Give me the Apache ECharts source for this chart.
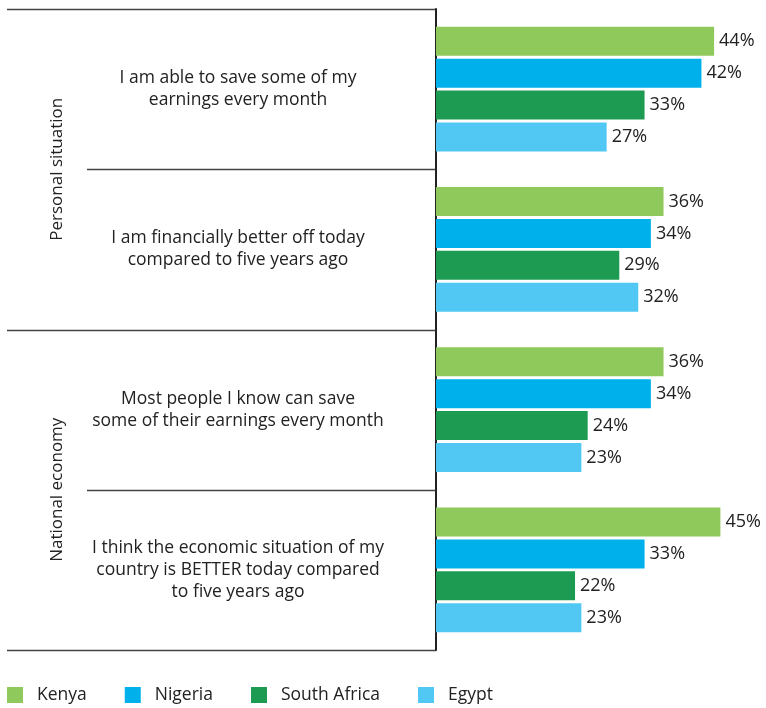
<!DOCTYPE html>
<html>
<head>
<meta charset="utf-8">
<script src="https://cdn.jsdelivr.net/npm/echarts@6/dist/echarts.min.js"></script>
<style>
  html, body { margin: 0; padding: 0; background: #fff; }
  #main { width: 766px; height: 708px; }
</style>
</head>
<body>
<div id="main"></div>
<script>
// data
var statements = [
  'I am able to save some of my\nearnings every month',
  'I am financially better off today\ncompared to five years ago',
  'Most people I know can save\nsome of their earnings every month',
  'I think the economic situation of my\ncountry is BETTER today compared\nto five years ago'
];
var groups = ['Personal situation', 'National economy'];
var countries = ['Kenya', 'Nigeria', 'South Africa', 'Egypt'];
var kenya = [44, 36, 36, 45];
var nigeria = [42, 34, 34, 33];
var southAfrica = [33, 29, 24, 22];
var egypt = [27, 32, 23, 23];
var colors = ['#8fc85b', '#00b0ea', '#1e9b53', '#50c8f3'];

var FONT = '"Open Sans", sans-serif';
var gridLeft = 436, gridTop = 9, gridBottom = 650;
var band = (gridBottom - gridTop) / statements.length;

var chartDom = document.getElementById('main');
var myChart = echarts.init(chartDom);

// table lines on the left; even rows start at the far left, odd rows indented
var graphics = [];
for (var i = 0; i <= statements.length; i++) {
  var y = Math.round(gridTop + band * i) + 0.5;
  var x0 = (i % 2 === 0) ? 7 : 87;
  graphics.push({
    type: 'line',
    shape: { x1: x0, y1: y, x2: gridLeft, y2: y },
    style: { stroke: '#444', lineWidth: 1.5 }
  });
}
for (var g = 0; g < groups.length; g++) {
  var cy = gridTop + band * (2 * g + 1);
  graphics.push({
    type: 'text',
    x: 57, y: cy,
    rotation: Math.PI / 2,
    style: {
      text: groups[g],
      font: '17px ' + FONT,
      fill: '#222',
      align: 'center',
      verticalAlign: 'middle'
    }
  });
}

var values = [kenya, nigeria, southAfrica, egypt];
var series = [];
for (var s = 0; s < countries.length; s++) {
  series.push({
    name: countries[s],
    type: 'bar',
    data: values[s],
    barWidth: 29,
    barGap: '10%',
    itemStyle: { color: colors[s] },
    label: {
      show: true,
      position: 'right',
      distance: 5,
      formatter: '{c}%',
      fontFamily: FONT,
      fontSize: 18,
      color: '#222'
    }
  });
}

var option = {
  animation: false,
  textStyle: { fontFamily: FONT },
  grid: { left: gridLeft, right: 14, top: gridTop, bottom: 708 - gridBottom, containLabel: false },
  legend: {
    data: countries,
    left: 7,
    top: 686,
    padding: 0,
    icon: 'rect',
    itemWidth: 16,
    itemHeight: 16,
    itemGap: 38,
    textStyle: { fontFamily: FONT, fontSize: 17.5, color: '#222', padding: [0, 0, 0, 9] }
  },
  xAxis: {
    type: 'value',
    min: 0,
    max: 50,
    show: false
  },
  yAxis: {
    type: 'category',
    data: statements,
    inverse: true,
    axisLine: { show: true, lineStyle: { color: '#222', width: 2 } },
    axisTick: { show: false },
    splitLine: { show: false },
    axisLabel: {
      align: 'center',
      margin: 198,
      fontFamily: FONT,
      fontSize: 17.5,
      lineHeight: 22,
      color: '#222'
    }
  },
  graphic: graphics,
  series: series
};

myChart.setOption(option);
</script>
</body>
</html>
